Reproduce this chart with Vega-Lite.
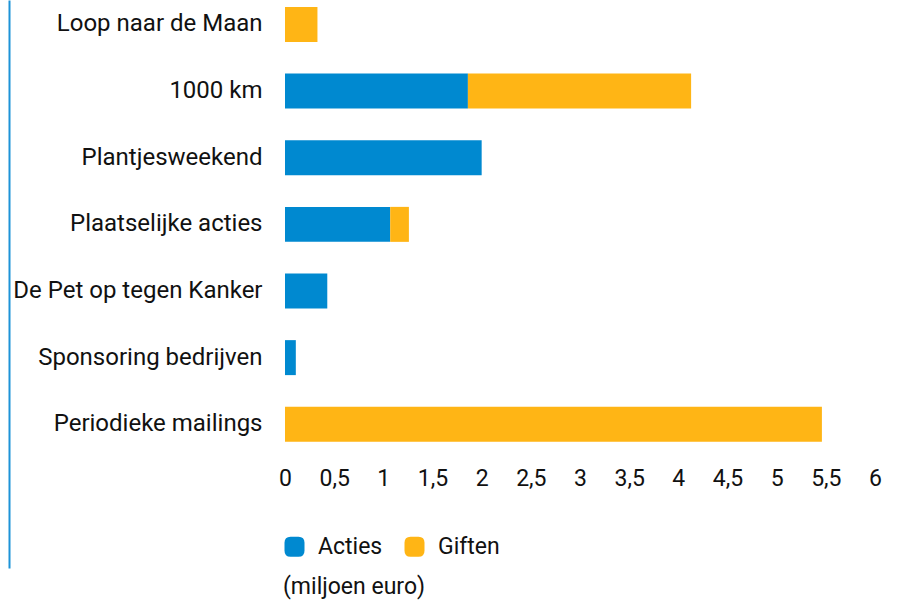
{
  "$schema": "https://vega.github.io/schema/vega-lite/v6.json",
  "width": 590,
  "height": 568,
  "autosize": "none",
  "padding": {"left": 285, "top": 0, "right": 29, "bottom": 33},
  "background": "white",
  "config": {"view": {"stroke": null}, "font": "Roboto"},
  "data": {
    "values": [
      {"cat": "Loop naar de Maan", "type": "Giften", "value": 0.33},
      {"cat": "1000 km", "type": "Acties", "value": 1.86},
      {"cat": "1000 km", "type": "Giften", "value": 2.27},
      {"cat": "Plantjesweekend", "type": "Acties", "value": 2.0},
      {"cat": "Plaatselijke acties", "type": "Acties", "value": 1.07},
      {"cat": "Plaatselijke acties", "type": "Giften", "value": 0.19},
      {"cat": "De Pet op tegen Kanker", "type": "Acties", "value": 0.43},
      {"cat": "Sponsoring bedrijven", "type": "Acties", "value": 0.11},
      {"cat": "Periodieke mailings", "type": "Giften", "value": 5.46}
    ]
  },
  "mark": {"type": "bar"},
  "encoding": {
    "y": {
      "field": "cat",
      "type": "nominal",
      "sort": ["Loop naar de Maan", "1000 km", "Plantjesweekend", "Plaatselijke acties", "De Pet op tegen Kanker", "Sponsoring bedrijven", "Periodieke mailings"],
      "title": null,
      "scale": {"paddingInner": 0.475, "paddingOuter": 1, "align": 0.0525},
      "axis": {
        "domain": true,
        "domainColor": "#1d93d8",
        "domainWidth": 2,
        "offset": 276,
        "ticks": false,
        "tickSize": 0,
        "labelPadding": -253,
        "labelFontSize": 24,
        "labelColor": "#111111",
        "labelLimit": 400
      }
    },
    "x": {
      "field": "value",
      "type": "quantitative",
      "stack": "zero",
      "title": null,
      "scale": {"domain": [0, 6]},
      "axis": {
        "values": [0, 0.5, 1, 1.5, 2, 2.5, 3, 3.5, 4, 4.5, 5, 5.5, 6],
        "labelExpr": "replace(format(datum.value, '~g'), '.', ',')",
        "grid": false,
        "domain": false,
        "ticks": false,
        "tickSize": 0,
        "offset": -126,
        "labelPadding": 25,
        "labelFontSize": 23,
        "labelColor": "#111111",
        "labelFlush": false
      }
    },
    "color": {
      "field": "type",
      "type": "nominal",
      "scale": {"domain": ["Acties", "Giften"], "range": ["#0089d0", "#ffb515"]},
      "legend": {
        "orient": "none",
        "legendX": -2,
        "legendY": 535,
        "direction": "horizontal",
        "title": "(miljoen euro)",
        "titleOrient": "bottom",
        "titleFontSize": 23,
        "titleFontWeight": "normal",
        "titleColor": "#111111",
        "titlePadding": 17,
        "titleAnchor": "start",
        "labelFontSize": 23,
        "labelColor": "#111111",
        "labelOffset": 12,
        "columnPadding": 20,
        "symbolSize": 400,
        "symbolType": "M -0.4,-1 L 0.4,-1 Q 1,-1 1,-0.4 L 1,0.4 Q 1,1 0.4,1 L -0.4,1 Q -1,1 -1,0.4 L -1,-0.4 Q -1,-1 -0.4,-1 Z",
        "symbolStrokeWidth": 0
      }
    }
  }
}
